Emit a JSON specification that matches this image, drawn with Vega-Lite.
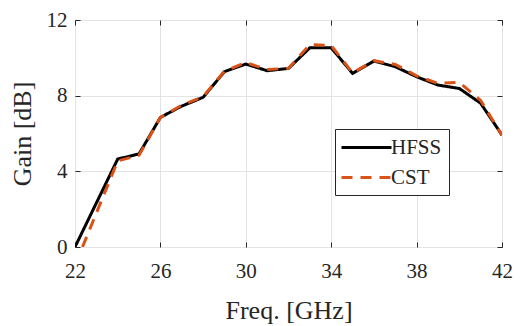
{
  "$schema": "https://vega.github.io/schema/vega-lite/v6.json",
  "width": 427,
  "height": 227,
  "autosize": "none",
  "padding": {"left": 75, "top": 20, "right": 18, "bottom": 79},
  "background": "white",
  "config": {
    "font": "Liberation Serif",
    "view": {"stroke": "#262626", "strokeWidth": 1},
    "axis": {
      "labelFont": "Liberation Serif",
      "titleFont": "Liberation Serif",
      "labelColor": "#262626",
      "titleColor": "#262626",
      "labelFontSize": 21,
      "titleFontSize": 26,
      "titleFontWeight": "normal",
      "labelFlush": false,
      "domain": false,
      "tickColor": "#262626",
      "tickSize": -5,
      "gridColor": "#e3e3e3",
      "gridWidth": 1
    },
    "legend": {
      "labelFont": "Liberation Serif",
      "labelFontSize": 21,
      "labelColor": "#262626"
    }
  },
  "data": {
    "values": [
      {"f": 22, "g": 0, "s": "HFSS"},
      {"f": 24, "g": 4.65, "s": "HFSS"},
      {"f": 25, "g": 4.92, "s": "HFSS"},
      {"f": 26, "g": 6.85, "s": "HFSS"},
      {"f": 27, "g": 7.45, "s": "HFSS"},
      {"f": 28, "g": 7.91, "s": "HFSS"},
      {"f": 29, "g": 9.27, "s": "HFSS"},
      {"f": 30, "g": 9.67, "s": "HFSS"},
      {"f": 31, "g": 9.32, "s": "HFSS"},
      {"f": 32, "g": 9.44, "s": "HFSS"},
      {"f": 33, "g": 10.53, "s": "HFSS"},
      {"f": 34, "g": 10.53, "s": "HFSS"},
      {"f": 35, "g": 9.18, "s": "HFSS"},
      {"f": 36, "g": 9.83, "s": "HFSS"},
      {"f": 37, "g": 9.53, "s": "HFSS"},
      {"f": 38, "g": 9.0, "s": "HFSS"},
      {"f": 39, "g": 8.56, "s": "HFSS"},
      {"f": 40, "g": 8.38, "s": "HFSS"},
      {"f": 41, "g": 7.6, "s": "HFSS"},
      {"f": 42, "g": 5.92, "s": "HFSS"},
      {"f": 22.35, "g": 0, "s": "CST"},
      {"f": 24, "g": 4.55, "s": "CST"},
      {"f": 25, "g": 4.85, "s": "CST"},
      {"f": 26, "g": 6.85, "s": "CST"},
      {"f": 27, "g": 7.5, "s": "CST"},
      {"f": 28, "g": 7.95, "s": "CST"},
      {"f": 29, "g": 9.3, "s": "CST"},
      {"f": 30, "g": 9.75, "s": "CST"},
      {"f": 31, "g": 9.38, "s": "CST"},
      {"f": 32, "g": 9.45, "s": "CST"},
      {"f": 33, "g": 10.7, "s": "CST"},
      {"f": 34, "g": 10.65, "s": "CST"},
      {"f": 35, "g": 9.2, "s": "CST"},
      {"f": 36, "g": 9.85, "s": "CST"},
      {"f": 37, "g": 9.65, "s": "CST"},
      {"f": 38, "g": 9.05, "s": "CST"},
      {"f": 39, "g": 8.65, "s": "CST"},
      {"f": 40, "g": 8.7, "s": "CST"},
      {"f": 41, "g": 7.75, "s": "CST"},
      {"f": 42, "g": 5.9, "s": "CST"}
    ]
  },
  "resolve": {"axis": {"x": "independent", "y": "independent"}},
  "layer": [
    {
      "mark": {"type": "line", "strokeWidth": 3, "clip": true},
      "encoding": {
        "x": {
          "field": "f", "type": "quantitative",
          "scale": {"domain": [22, 42], "nice": false, "zero": false},
          "axis": {"values": [22, 26, 30, 34, 38, 42], "title": "Freq. [GHz]", "labelFlush": false, "labelPadding": 18, "titlePadding": 16}
        },
        "y": {
          "field": "g", "type": "quantitative",
          "scale": {"domain": [0, 12], "nice": false},
          "axis": {"values": [0, 4, 8, 12], "title": "Gain [dB]", "labelPadding": 13, "titlePadding": 11}
        },
        "color": {
          "field": "s", "type": "nominal",
          "scale": {"domain": ["HFSS", "CST"], "range": ["#000000", "#D95319"]},
          "legend": {
            "title": null, "orient": "none", "legendX": 260, "legendY": 109,
            "symbolType": "M-2.5,0H2.5", "symbolSize": 400, "symbolStrokeWidth": 3,
            "symbolOffset": 13, "labelOffset": 13,
            "strokeColor": "#262626", "fillColor": "white", "padding": 7, "rowPadding": 8
          }
        },
        "strokeDash": {
          "field": "s", "type": "nominal",
          "scale": {"domain": ["HFSS", "CST"], "range": [[1, 0], [11, 8]]},
          "legend": {
            "title": null, "orient": "none", "legendX": 260, "legendY": 109,
            "symbolType": "M-2.5,0H2.5", "symbolSize": 400, "symbolStrokeWidth": 3,
            "symbolOffset": 13, "labelOffset": 13,
            "strokeColor": "#262626", "fillColor": "white", "padding": 7, "rowPadding": 8
          }
        }
      }
    },
    {
      "mark": {"type": "point", "opacity": 0},
      "encoding": {
        "x": {
          "field": "f", "type": "quantitative",
          "axis": {"orient": "top", "values": [22, 26, 30, 34, 38, 42], "labels": false, "title": null, "grid": false}
        },
        "y": {
          "field": "g", "type": "quantitative",
          "axis": {"orient": "right", "values": [0, 4, 8, 12], "labels": false, "title": null, "grid": false}
        }
      }
    }
  ]
}
